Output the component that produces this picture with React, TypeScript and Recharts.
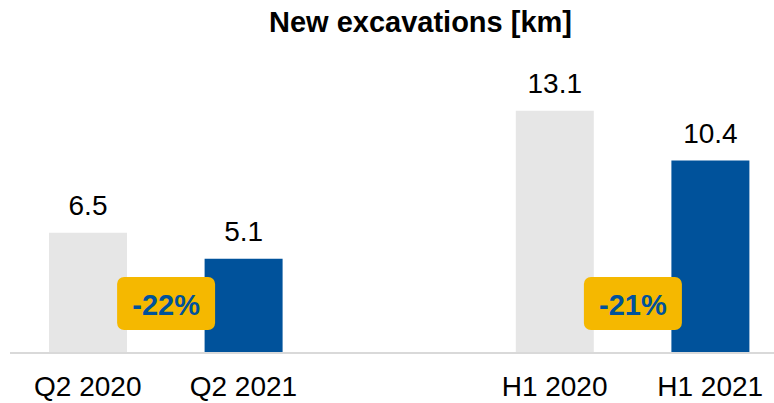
import React from 'react';
import { BarChart, Bar, XAxis, YAxis, Cell, LabelList } from 'recharts';

// categories incl. an empty spacer slot between the quarter and half-year pairs
const categories = ['Q2 2020', 'Q2 2021', '', 'H1 2020', 'H1 2021'];
const excavationsKm = [6.5, 5.1, null, 13.1, 10.4];
const changeLabels = ['', '-22%', '', '', '-21%'];
const barColors = ['#E6E6E6', '#00529B', '#FFFFFF', '#E6E6E6', '#00529B'];

const FONT = '"Liberation Sans", Arial, sans-serif';
const BLUE = '#00529B';
const YELLOW = '#F5B800';

const data = categories.map((name, i) => ({
  name,
  value: excavationsKm[i],
  change: changeLabels[i],
}));

// value above each bar
const ValueLabel = (props: any) => {
  const { x, y, width, value } = props;
  if (value === null || value === undefined) return null;
  return (
    <text
      x={x + width / 2}
      y={y - 17.5}
      textAnchor="middle"
      fontSize={28}
      fontFamily={FONT}
      fill="#000"
    >
      {Number(value).toFixed(1)}
    </text>
  );
};

// yellow change badge, sits between the two bars of a pair
const ChangeBadge = (props: any) => {
  const { x, y, height, value } = props;
  if (!value) return null;
  const bottom = y + height;
  const cx = x - 38.5;
  return (
    <g>
      <rect x={cx - 49} y={bottom - 76} width={98} height={53} rx={7} fill={YELLOW} />
      <text
        x={cx}
        y={bottom - 38}
        textAnchor="middle"
        fontSize={29}
        fontWeight="bold"
        fontFamily={FONT}
        fill={BLUE}
      >
        {value}
      </text>
    </g>
  );
};

export default function App() {
  return (
    <div
      style={{
        position: 'fixed',
        left: 0,
        top: 0,
        width: 774,
        height: 403,
        overflow: 'hidden',
        background: '#fff',
      }}
    >
      <svg width={774} height={45} style={{ position: 'absolute', left: 0, top: 0 }}>
        <text
          x={420.5}
          y={32}
          textAnchor="middle"
          fontSize={29}
          fontWeight="bold"
          fontFamily={FONT}
          fill="#000"
        >
          New excavations [km]
        </text>
      </svg>
      <BarChart
        width={800}
        height={403}
        data={data}
        margin={{ top: 57, right: 12, left: 10, bottom: 0 }}
        style={{ position: 'absolute', left: 0, top: 0 }}
      >
        <XAxis
          dataKey="name"
          height={50}
          interval={0}
          tickLine={false}
          tickMargin={17}
          axisLine={{ stroke: '#D9D9D9', strokeWidth: 2 }}
          tick={{ fill: '#000', fontSize: 28, fontFamily: FONT }}
        />
        <YAxis hide domain={[0, 16]} />
        <Bar dataKey="value" barSize={78} isAnimationActive={false}>
          {data.map((entry, index) => (
            <Cell key={`cell-${index}`} fill={barColors[index]} />
          ))}
          <LabelList dataKey="value" content={<ValueLabel />} />
          <LabelList dataKey="change" content={<ChangeBadge />} />
        </Bar>
      </BarChart>
    </div>
  );
}
